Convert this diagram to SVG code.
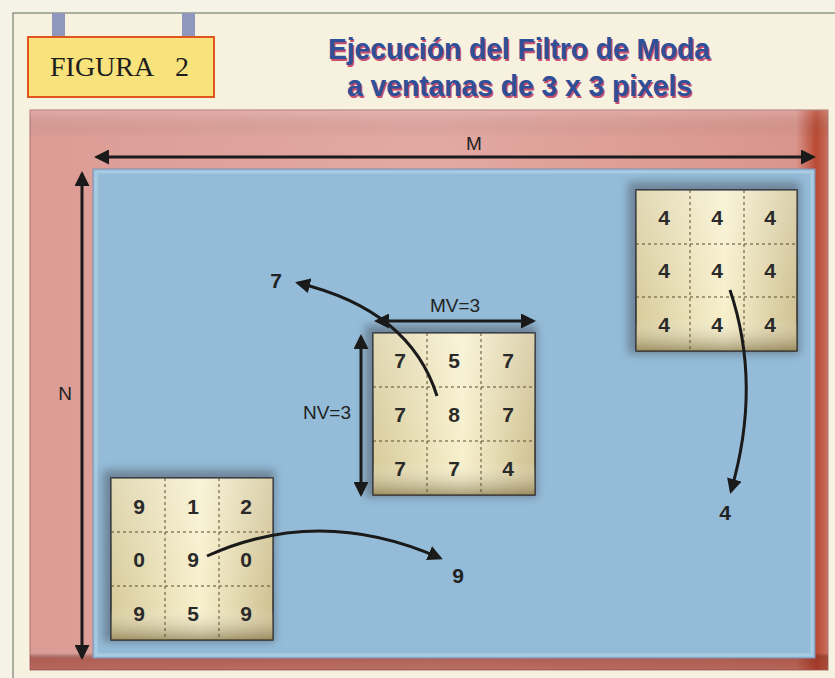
<svg xmlns="http://www.w3.org/2000/svg" width="835" height="678" viewBox="0 0 835 678">
<defs>
  <linearGradient id="pinkG" x1="0" y1="0" x2="1" y2="0">
    <stop offset="0" stop-color="#dc9c96"/>
    <stop offset="0.5" stop-color="#e2a9a2"/>
    <stop offset="0.96" stop-color="#d9958d"/>
    <stop offset="0.985" stop-color="#b94a34"/>
    <stop offset="1" stop-color="#c8705c"/>
  </linearGradient>
  <linearGradient id="pinkB" x1="0" y1="0" x2="0" y2="1">
    <stop offset="0" stop-color="#fff" stop-opacity="0.15"/>
    <stop offset="0.05" stop-color="#000" stop-opacity="0"/>
    <stop offset="0.97" stop-color="#000" stop-opacity="0"/>
    <stop offset="0.98" stop-color="#8a2a1a" stop-opacity="0.55"/>
    <stop offset="1" stop-color="#8a2a1a" stop-opacity="0.45"/>
  </linearGradient>
  <linearGradient id="tileG" x1="0" y1="0" x2="1" y2="0">
    <stop offset="0" stop-color="#d8cc9c"/>
    <stop offset="0.55" stop-color="#f7f0cc"/>
    <stop offset="1" stop-color="#cfc192"/>
  </linearGradient>
  <linearGradient id="tileV" x1="0" y1="0" x2="0" y2="1">
    <stop offset="0" stop-color="#fff" stop-opacity="0.25"/>
    <stop offset="0.8" stop-color="#fff" stop-opacity="0"/>
    <stop offset="1" stop-color="#6a5a30" stop-opacity="0.55"/>
  </linearGradient>
  <filter id="sh" x="-20%" y="-20%" width="140%" height="140%">
    <feGaussianBlur stdDeviation="4"/>
  </filter>
  <marker id="ah" viewBox="0 0 10 10" refX="8" refY="5" markerWidth="5" markerHeight="5" orient="auto-start-reverse" markerUnits="strokeWidth">
    <path d="M0,0 L10,5 L0,10 z" fill="#1a1a1a"/>
  </marker>
</defs>
<style>
  .arr{stroke:#1a1a1a;stroke-width:3;fill:none}
  .num{font-family:"Liberation Sans",Arial,sans-serif;font-weight:bold;font-size:21px;fill:#2a2a2a;text-anchor:middle}
  .lbl{font-family:"Liberation Sans",Arial,sans-serif;font-size:19px;fill:#222;text-anchor:middle}
  .out{font-family:"Liberation Sans",Arial,sans-serif;font-weight:bold;font-size:21px;fill:#222;text-anchor:middle}
  .title{font-family:"Liberation Sans",Arial,sans-serif;font-weight:bold;font-size:29px}
  .dash{stroke:#5a4a30;stroke-width:1;stroke-dasharray:3,3}
  .tile{fill:url(#tileG);stroke:#2a2a2a;stroke-width:1.5}
</style>

<!-- background -->
<rect x="0" y="0" width="835" height="678" fill="#f5f2e6"/>
<rect x="13" y="13" width="840" height="680" fill="#f6f2df" stroke="#5f6a60" stroke-width="1"/>

<!-- heading -->
<g id="figura">
  <rect x="52" y="13" width="13" height="24" fill="#8d98bc"/>
  <rect x="182" y="13" width="13" height="24" fill="#8d98bc"/>
  <rect x="28" y="37" width="186" height="60" fill="#f7e27c" stroke="#e0561e" stroke-width="2"/>
  <text x="50" y="76" font-family="'Liberation Serif','Times New Roman',serif" font-size="28" fill="#1e1e1e">FIGURA</text>
  <text x="175" y="76" font-family="'Liberation Serif','Times New Roman',serif" font-size="28" fill="#1e1e1e">2</text>
</g>
<g id="title">
  <text class="title" x="329.5" y="60.5" fill="#c8506e" textLength="382" lengthAdjust="spacingAndGlyphs">Ejecución del Filtro de Moda</text>
  <text class="title" x="328" y="59" fill="#2f4f98" textLength="382" lengthAdjust="spacingAndGlyphs">Ejecución del Filtro de Moda</text>
  <text class="title" x="348.5" y="97.5" fill="#c8506e" textLength="345" lengthAdjust="spacingAndGlyphs">a ventanas de 3 x 3 pixels</text>
  <text class="title" x="347" y="96" fill="#2f4f98" textLength="345" lengthAdjust="spacingAndGlyphs">a ventanas de 3 x 3 pixels</text>
</g>

<!-- frame -->
<g id="frame">
  <rect x="30" y="110" width="798" height="560" fill="url(#pinkG)" stroke="#a87070" stroke-width="1"/>
  <rect x="30" y="110" width="798" height="560" fill="url(#pinkB)"/>
  <rect x="93" y="169" width="722" height="489" fill="#94bcd8" stroke="#8290b4" stroke-width="1"/>
  <rect x="96" y="172" width="716" height="483" fill="none" stroke="#b4d2e6" stroke-width="3" opacity="0.7"/>
</g>

<!-- tiles -->
<g id="tile-center">
  <rect x="365" y="325" width="172" height="172" fill="#556070" opacity="0.6" filter="url(#sh)"/>
  <rect class="tile" x="373" y="333" width="162" height="162"/>
  <rect x="373" y="333" width="162" height="162" fill="url(#tileV)"/>
  <line class="dash" x1="427" y1="333" x2="427" y2="495"/>
  <line class="dash" x1="481" y1="333" x2="481" y2="495"/>
  <line class="dash" x1="373" y1="387" x2="535" y2="387"/>
  <line class="dash" x1="373" y1="441" x2="535" y2="441"/>
  <text class="num" x="400" y="368">7</text><text class="num" x="454" y="368">5</text><text class="num" x="508" y="368">7</text>
  <text class="num" x="400" y="422">7</text><text class="num" x="454" y="422">8</text><text class="num" x="508" y="422">7</text>
  <text class="num" x="400" y="476">7</text><text class="num" x="454" y="476">7</text><text class="num" x="508" y="476">4</text>
</g>
<g id="tile-left">
  <rect x="103" y="470" width="172" height="172" fill="#556070" opacity="0.6" filter="url(#sh)"/>
  <rect class="tile" x="111" y="478" width="162" height="162"/>
  <rect x="111" y="478" width="162" height="162" fill="url(#tileV)"/>
  <line class="dash" x1="165" y1="478" x2="165" y2="640"/>
  <line class="dash" x1="219" y1="478" x2="219" y2="640"/>
  <line class="dash" x1="111" y1="532" x2="273" y2="532"/>
  <line class="dash" x1="111" y1="586" x2="273" y2="586"/>
  <text class="num" x="139" y="514">9</text><text class="num" x="193" y="514">1</text><text class="num" x="246" y="514">2</text>
  <text class="num" x="139" y="567">0</text><text class="num" x="193" y="567">9</text><text class="num" x="246" y="567">0</text>
  <text class="num" x="139" y="621">9</text><text class="num" x="193" y="621">5</text><text class="num" x="246" y="621">9</text>
</g>
<g id="tile-right">
  <rect x="628" y="182" width="172" height="172" fill="#556070" opacity="0.6" filter="url(#sh)"/>
  <rect class="tile" x="636" y="190" width="161" height="161"/>
  <rect x="636" y="190" width="161" height="161" fill="url(#tileV)"/>
  <line class="dash" x1="690" y1="190" x2="690" y2="351"/>
  <line class="dash" x1="744" y1="190" x2="744" y2="351"/>
  <line class="dash" x1="636" y1="244" x2="797" y2="244"/>
  <line class="dash" x1="636" y1="297" x2="797" y2="297"/>
  <text class="num" x="664" y="225">4</text><text class="num" x="717" y="225">4</text><text class="num" x="770" y="225">4</text>
  <text class="num" x="664" y="278">4</text><text class="num" x="717" y="278">4</text><text class="num" x="770" y="278">4</text>
  <text class="num" x="664" y="332">4</text><text class="num" x="717" y="332">4</text><text class="num" x="770" y="332">4</text>
</g>

<!-- connectors -->
<g id="connectors">
  <line class="arr" x1="97" y1="157" x2="813" y2="157" marker-start="url(#ah)" marker-end="url(#ah)"/>
  <line class="arr" x1="82" y1="174" x2="82" y2="657" marker-start="url(#ah)" marker-end="url(#ah)"/>
  <line class="arr" x1="377" y1="321" x2="533" y2="321" marker-start="url(#ah)" marker-end="url(#ah)"/>
  <line class="arr" x1="361" y1="337" x2="361" y2="494" marker-start="url(#ah)" marker-end="url(#ah)"/>
  <path class="arr" d="M437,396 Q410,310 298,283" marker-end="url(#ah)"/>
  <path class="arr" d="M207,556 Q320,505 440,558" marker-end="url(#ah)"/>
  <path class="arr" d="M730,290 Q762,385 731,491" marker-end="url(#ah)"/>
</g>

<!-- labels -->
<g id="labels">
  <text class="lbl" x="474" y="150">M</text>
  <text class="lbl" x="65" y="400">N</text>
  <text class="lbl" x="455" y="312">MV=3</text>
  <text class="lbl" x="327" y="419">NV=3</text>
  <text class="out" x="276" y="288">7</text>
  <text class="out" x="458" y="583">9</text>
  <text class="out" x="725" y="520">4</text>
</g>
</svg>
